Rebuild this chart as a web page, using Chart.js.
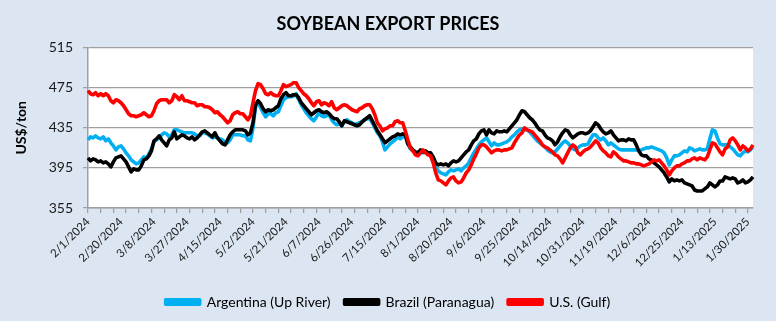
<!DOCTYPE html>
<html>
<head>
<meta charset="utf-8">
<script src="https://cdn.jsdelivr.net/npm/chart.js@4.4.1/dist/chart.umd.min.js"></script>
<style>
  html, body { margin: 0; padding: 0; background: #dce6f2; }
  #wrap { width: 776px; height: 321px; }
</style>
</head>
<body>
<div id="wrap"><canvas id="soy" width="776" height="321"></canvas></div>
<script>
/* Soybean export prices — daily (weekday) quotes, US$/ton */
const labelEvery = 13;   // one date label every 13 trading days
const tickEvery = 5;     // small tick marks every 5 days
const yTicks = [355, 395, 435, 475, 515];
const seriesNames = ["Argentina (Up River)", "Brazil (Paranagua)", "U.S. (Gulf)"];

const argentina = [
  423, 426, 425, 427, 425, 424, 426, 422, 424, 420,
  417, 413, 416, 417, 414, 410, 407, 403, 401, 399,
  400, 403, 406, 405, 409, 414, 421, 423, 425, 428,
  430, 429, 426, 428, 433, 433, 432, 431, 430, 430,
  430, 430, 429, 427, 427, 430, 430, 429, 427, 425,
  426, 425, 424, 423, 420, 420, 423, 428, 428, 428,
  428, 427, 427, 423, 422, 435, 456, 460, 455, 450,
  446, 449, 449, 447, 450, 451, 457, 463, 465, 466,
  466, 467, 469, 463, 458, 454, 450, 447, 444, 442,
  446, 450, 447, 446, 447, 448, 443, 440, 438, 439,
  437, 441, 443, 441, 440, 438, 439, 440, 441, 443,
  444, 444, 440, 435, 430, 427, 421, 413, 416, 419,
  421, 423, 426, 424, 426, 427, 419, 414, 412, 410,
  410, 412, 410, 411, 409, 407, 402, 396, 392, 390,
  389, 388, 391, 393, 392, 393, 394, 392, 395, 397,
  400, 405, 410, 414, 418, 421, 423, 425, 421, 417,
  420, 418, 418, 419, 420, 421, 423, 426, 428, 431,
  433, 434, 433, 433, 431, 428, 425, 422, 420, 418,
  416, 413, 411, 410, 411, 414, 417, 420, 422, 420,
  417, 414, 413, 415, 417, 418, 418, 419, 424, 428,
  428, 425, 423, 425, 422, 418, 420, 418, 416, 414,
  413, 413, 413, 413, 413, 413, 413, 412, 413, 414,
  415, 415, 416, 415, 414, 413, 412, 410, 405, 398,
  403, 407, 407, 408, 410, 412, 411, 415, 414, 412,
  413, 414, 413, 413, 414, 424, 433, 432, 425, 419,
  418, 418, 418, 416, 414, 411, 408, 407, 410, 412,
  411, 413, 416
];

const brazil = [
  405, 402, 404, 403, 401, 402, 400, 401, 399, 396,
  401, 405, 406, 407, 404, 401, 396, 391, 394, 393,
  393, 397, 403, 404, 407, 412, 422, 424, 427, 423,
  420, 417, 423, 425, 431, 424, 426, 428, 427, 425,
  424, 426, 423, 425, 428, 431, 432, 430, 428, 426,
  430, 425, 422, 419, 418, 423, 428, 431, 433, 433,
  433, 433, 432, 428, 430, 440, 458, 462, 459, 454,
  451, 453, 452, 453, 455, 457, 464, 468, 470, 467,
  467, 468, 468, 465, 460, 457, 454, 451, 448, 450,
  452, 453, 451, 450, 451, 449, 446, 444, 444, 441,
  437, 442, 441, 440, 439, 438, 437, 438, 441, 443,
  445, 447, 442, 437, 432, 428, 424, 420, 422, 424,
  426, 427, 429, 428, 429, 428, 419, 416, 413, 411,
  410, 413, 411, 412, 410, 410, 406, 400, 398, 399,
  398, 399, 397, 400, 402, 401, 402, 405, 408, 411,
  413, 418, 422, 424, 429, 432, 433, 428, 433, 430,
  429, 432, 431, 431, 432, 431, 434, 437, 440, 443,
  448, 452, 451, 448, 445, 443, 440, 436, 433, 432,
  428, 425, 424, 422, 418, 421, 426, 430, 433, 432,
  428, 425, 427, 429, 430, 430, 429, 430, 432, 436,
  440, 438, 434, 431, 429, 430, 432, 428, 425, 422,
  423, 423, 422, 424, 423, 423, 418, 412, 408, 407,
  407, 404, 403, 400, 398, 396, 393, 390, 386, 381,
  384, 382, 383, 382, 383, 380, 379, 378, 377, 373,
  372, 372, 372, 374, 376, 380, 378, 376, 378, 382,
  382, 386, 385, 384, 385, 384, 380, 381, 383, 380,
  381, 383, 386
];

const usGulf = [
  472, 469, 468, 470, 467, 469, 467, 469, 467, 462,
  460, 463, 462, 460, 457, 453, 449, 447, 447, 446,
  447, 448, 450, 448, 446, 447, 452, 459, 462, 463,
  463, 463, 460, 462, 468, 466, 463, 467, 462, 462,
  461, 460, 460, 457, 458, 458, 456, 456, 455, 453,
  450, 451, 448, 446, 443, 440, 442, 448, 450, 451,
  449, 449, 446, 443, 447, 460, 472, 479, 478, 474,
  469, 468, 470, 468, 467, 467, 472, 478, 476, 477,
  478, 480, 480, 475, 472, 469, 467, 464, 460, 457,
  461, 462, 458, 460, 459, 457, 461, 455, 453, 455,
  457, 458, 457, 455, 453, 452, 451, 454, 455, 457,
  458, 458, 454, 448, 440, 437, 432, 434, 435, 437,
  437, 441, 442, 440, 440, 432, 423, 415, 412, 408,
  407, 410, 413, 410, 408, 407, 400, 390, 383, 382,
  380, 378, 382, 385, 386, 382, 380, 381, 385, 390,
  393, 398, 404, 409, 415, 418, 418, 416, 413, 410,
  412, 413, 413, 412, 413, 413, 414, 415, 420, 424,
  428, 430, 435, 433, 432, 431, 428, 425, 422, 418,
  416, 415, 413, 411, 408, 407, 404, 400, 405, 410,
  415, 418, 416, 410, 408, 411, 413, 414, 416, 419,
  422, 420, 415, 412, 410, 407, 406, 411, 409, 406,
  404, 402, 402, 401, 400, 400, 399, 399, 398, 397,
  398, 399, 401, 403, 402, 403, 400, 397, 393, 388,
  392, 395, 397, 397, 399, 400, 402, 402, 404, 405,
  403, 405, 404, 403, 406, 413, 420, 419, 415, 411,
  408, 414, 416, 423, 425, 422, 418, 413, 417, 415,
  412, 414, 418
];

// weekday dates starting 2/1/2024, one per quote
const dates = [];
const day = new Date(2024, 1, 1);
while (dates.length < argentina.length) {
  const wd = day.getDay();
  if (wd !== 0 && wd !== 6) {
    dates.push(`${day.getMonth() + 1}/${day.getDate()}/${day.getFullYear()}`);
  }
  day.setDate(day.getDate() + 1);
}

const color = {
  blue: "#00b0f0",
  black: "#000000",
  red: "#ff0000",
  grid: "#a0a0a0",
  text: "#1a1a1a",
};
const font = "Lato, 'Open Sans', sans-serif";

// white plot area on the blue-grey chart background
const plotBg = {
  id: "plotBg",
  beforeDraw(chart) {
    const { ctx, chartArea: a } = chart;
    ctx.save();
    ctx.fillStyle = "#ffffff";
    ctx.fillRect(a.left, a.top, a.right - a.left, a.bottom - a.top);
    ctx.restore();
  },
};

const lineSet = (label, data, stroke, order) => ({
  label,
  data,
  borderColor: stroke,
  backgroundColor: stroke,
  borderWidth: 3.6,
  pointRadius: 0,
  tension: 0,
  borderJoinStyle: "round",
  order,
});

new Chart(document.getElementById("soy"), {
  type: "line",
  data: {
    labels: dates,
    datasets: [
      lineSet(seriesNames[0], argentina, color.blue, 3),
      lineSet(seriesNames[1], brazil, color.black, 2),
      lineSet(seriesNames[2], usGulf, color.red, 1),
    ],
  },
  options: {
    responsive: false,
    animation: false,
    layout: { padding: { left: 0, right: 0, top: 0, bottom: 2 } },
    plugins: {
      title: {
        display: true,
        text: "SOYBEAN EXPORT PRICES",
        color: "#000",
        font: { family: font, size: 18, weight: "bold" },
        padding: { top: 13, bottom: 13 },
      },
      legend: {
        position: "bottom",
        labels: {
          boxWidth: 34,
          boxHeight: 4.5,
          padding: 14,
          color: "#000",
          font: { family: font, size: 14 },
          sort: (a, b) => a.datasetIndex - b.datasetIndex,
        },
      },
      tooltip: { enabled: false },
    },
    scales: {
      x: {
        grid: {
          drawOnChartArea: false,
          tickLength: 5,
          lineWidth: 1.25,
          color: (ctx) => (ctx.index % tickEvery === 0 ? color.grid : "transparent"),
        },
        border: { color: color.grid, width: 1.5 },
        ticks: {
          autoSkip: false,
          minRotation: 45,
          maxRotation: 45,
          padding: 2,
          color: color.text,
          font: { family: font, size: 11.5 },
          callback: (v, i) => (i % labelEvery === 0 ? dates[i] : ""),
        },
        afterFit: (s) => {
          s.height = 73;
          s.paddingLeft = 0;
          s.paddingRight = 23; // room right of the plot, as in the original
        },
      },
      y: {
        min: yTicks[0],
        max: yTicks[yTicks.length - 1],
        afterBuildTicks: (s) => {
          s.ticks = yTicks.map((v) => ({ value: v }));
        },
        grid: { color: color.grid, lineWidth: 1.25, tickLength: 5 },
        border: { color: color.grid, width: 1.5 },
        ticks: {
          padding: 10,
          color: color.text,
          font: { family: font, size: 14 },
        },
        title: {
          display: true,
          text: "US$/ton",
          color: "#000",
          font: { family: font, size: 14, weight: "bold" },
          padding: { top: 13, bottom: 0 },
        },
        afterFit: (s) => {
          s.width = 88;
        },
      },
    },
  },
  plugins: [plotBg],
});
</script>
</body>
</html>
